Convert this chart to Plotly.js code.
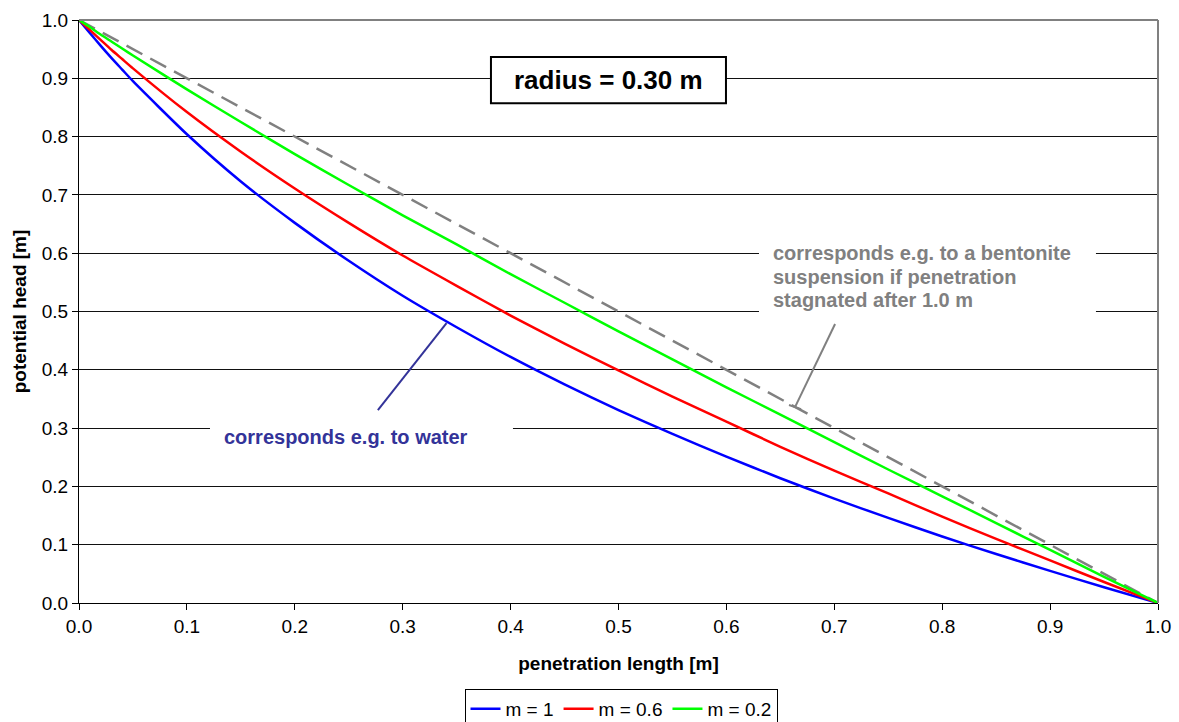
<!DOCTYPE html>
<html>
<head>
<meta charset="utf-8">
<script src="https://cdn.plot.ly/plotly-3.0.1.min.js"></script>
<style>html,body{margin:0;padding:0;background:#fff;}#chart{width:1179px;height:722px;}</style>
</head>
<body>
<div id="chart"></div>
<script>
const penetration = [0, 0.01, 0.02, 0.03, 0.04, 0.05, 0.10, 0.15, 0.20, 0.25, 0.30, 0.35, 0.40, 0.45, 0.50, 0.55, 0.60, 0.65, 0.70, 0.75, 0.80, 0.85, 0.90, 0.95, 1.00];
const head_m1  = [1, 0.978, 0.956, 0.935, 0.915, 0.895, 0.804, 0.723, 0.652, 0.587, 0.527, 0.473, 0.422, 0.375, 0.331, 0.290, 0.251, 0.214, 0.179, 0.146, 0.114, 0.084, 0.055, 0.027, 0];
const head_m06 = [1, 0.983, 0.966, 0.949, 0.933, 0.917, 0.842, 0.774, 0.711, 0.652, 0.596, 0.544, 0.493, 0.445, 0.399, 0.354, 0.311, 0.268, 0.227, 0.188, 0.148, 0.110, 0.073, 0.036, 0];
const head_m02 = [1, 0.988, 0.975, 0.963, 0.951, 0.939, 0.881, 0.825, 0.770, 0.717, 0.665, 0.615, 0.564, 0.515, 0.466, 0.418, 0.370, 0.323, 0.276, 0.229, 0.183, 0.137, 0.091, 0.045, 0];
const linear_x = [0, 1];
const linear_y = [1, 0];
const seriesNames = ["m = 1", "m = 0.6", "m = 0.2"];
const xTicks = [0, 0.1, 0.2, 0.3, 0.4, 0.5, 0.6, 0.7, 0.8, 0.9, 1.0];
const yTicks = [0, 0.1, 0.2, 0.3, 0.4, 0.5, 0.6, 0.7, 0.8, 0.9, 1.0];

const FONT = "Liberation Sans, Arial, sans-serif";

const traces = [
  {x: linear_x, y: linear_y, mode: "lines", line: {color: "#808080", width: 2.5, dash: "18px,9px"}, showlegend: false, hoverinfo: "skip"},
  {x: penetration, y: head_m1, name: seriesNames[0], mode: "lines", line: {color: "#0000FF", width: 2.5, shape: "spline", smoothing: 0.6}},
  {x: penetration, y: head_m06, name: seriesNames[1], mode: "lines", line: {color: "#FF0000", width: 2.5, shape: "spline", smoothing: 0.6}},
  {x: penetration, y: head_m02, name: seriesNames[2], mode: "lines", line: {color: "#00FF00", width: 2.5, shape: "spline", smoothing: 0.6}}
];

const layout = {
  width: 1179, height: 722,
  margin: {l: 79, r: 21, t: 20, b: 119},
  paper_bgcolor: "#fff", plot_bgcolor: "#fff",
  font: {family: FONT, size: 19, color: "#000"},
  xaxis: {
    range: [0, 1], tickvals: xTicks, tickformat: ".1f", automargin: false,
    showgrid: false, zeroline: false,
    showline: true, linecolor: "#000", linewidth: 1,
    ticks: "outside", ticklen: 6, tickcolor: "#000",
    tickfont: {size: 19, family: FONT},
    title: {text: "<b>penetration length [m]</b>", font: {size: 19, family: FONT}, standoff: 20}
  },
  yaxis: {
    range: [0, 1], tickvals: yTicks, tickformat: ".1f", automargin: false,
    showgrid: true, gridcolor: "#111", gridwidth: 1, zeroline: false,
    showline: true, linecolor: "#000", linewidth: 1,
    ticks: "outside", ticklen: 6, tickcolor: "#000",
    tickfont: {size: 19, family: FONT},
    title: {text: "<b>potential head [m]</b>", font: {size: 19, family: FONT}, standoff: 10}
  },
  legend: {
    orientation: "h", x: 621 / 1179, xanchor: "center", xref: "container",
    y: 33 / 722, yanchor: "top", yref: "container",
    bordercolor: "#000", borderwidth: 1, bgcolor: "#fff",
    font: {size: 19, family: FONT}, itemwidth: 30, tracegroupgap: 0
  },
  shapes: [
    {type: "line", xref: "paper", yref: "paper", x0: 0, x1: 1, y0: 1, y1: 1, line: {color: "#808080", width: 2}, layer: "above"},
    {type: "line", xref: "paper", yref: "paper", x0: 1, x1: 1, y0: 0, y1: 1, line: {color: "#808080", width: 2}, layer: "above"},
    {type: "rect", xref: "x", yref: "y", x0: 0.1214, x1: 0.4022, y0: 0.2487, y1: 0.3225, fillcolor: "#fff", line: {width: 0}, layer: "above"},
    {type: "rect", xref: "x", yref: "y", x0: 0.6302, x1: 0.9425, y0: 0.4889, y1: 0.6226, fillcolor: "#fff", line: {width: 0}, layer: "above"},
    {type: "line", xref: "x", yref: "y", x0: 0.277, y0: 0.331, x1: 0.3406, y1: 0.480, line: {color: "#333399", width: 2}, layer: "above"},
    {type: "line", xref: "x", yref: "y", x0: 0.7007, y0: 0.4786, x1: 0.6636, y1: 0.336, line: {color: "#808080", width: 2}, layer: "above"},
    {type: "line", xref: "x", yref: "y", x0: 0.6580, y0: 0.3395, x1: 0.6692, y1: 0.3325, line: {color: "#808080", width: 2}, layer: "above"},
    {type: "rect", xref: "x", yref: "y", x0: 0.3818, x1: 0.5996, y0: 0.857, y1: 0.9365, fillcolor: "#fff", line: {color: "#000", width: 2}, layer: "above"}
  ],
  annotations: [
    {xref: "x", yref: "y", x: 0.4907, y: 0.897, text: "<b>radius = 0.30 m</b>", showarrow: false, font: {size: 26, family: FONT, color: "#000"}},
    {xref: "x", yref: "y", x: 0.1325, y: 0.2847, xanchor: "left", text: "<b>corresponds e.g. to water</b>", showarrow: false, font: {size: 20, family: FONT, color: "#333399"}},
    {xref: "x", yref: "paper", x: 0.6413, y: (603 - 253) / 583, xanchor: "left", text: "<b>corresponds e.g. to a bentonite</b>", showarrow: false, font: {size: 20, family: FONT, color: "#808080"}},
    {xref: "x", yref: "paper", x: 0.6413, y: (603 - 277) / 583, xanchor: "left", text: "<b>suspension if penetration</b>", showarrow: false, font: {size: 20, family: FONT, color: "#808080"}},
    {xref: "x", yref: "paper", x: 0.6413, y: (603 - 300) / 583, xanchor: "left", text: "<b>stagnated after 1.0 m</b>", showarrow: false, font: {size: 20, family: FONT, color: "#808080"}}
  ]
};

Plotly.newPlot("chart", traces, layout, {displayModeBar: false, staticPlot: true});
</script>
</body>
</html>
